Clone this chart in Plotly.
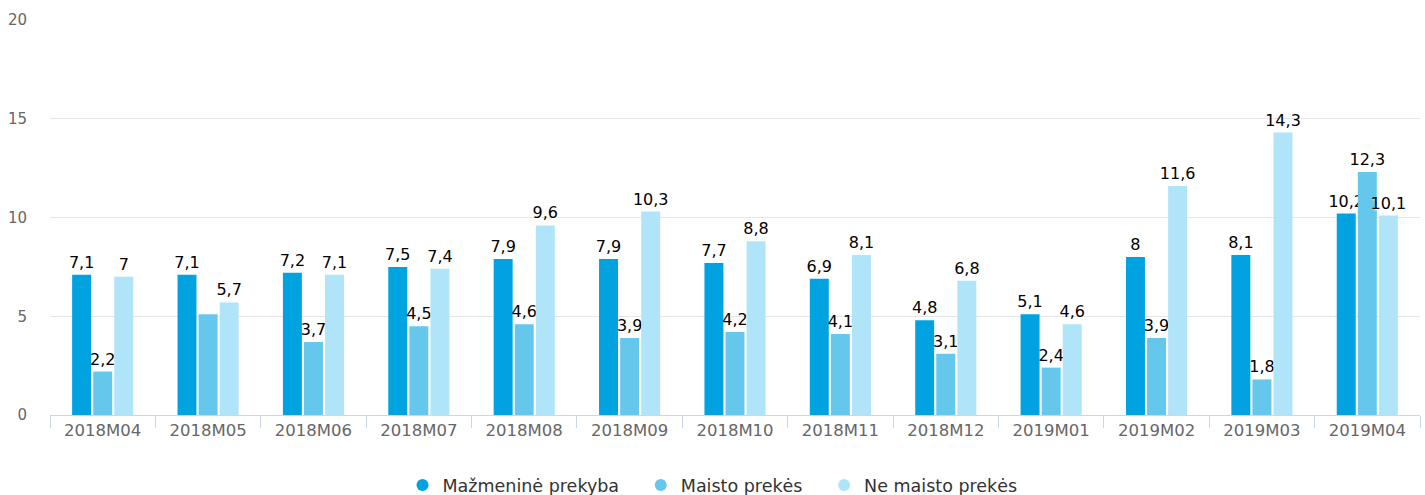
import plotly.graph_objects as go

categories = ["2018M04", "2018M05", "2018M06", "2018M07", "2018M08", "2018M09", "2018M10",
              "2018M11", "2018M12", "2019M01", "2019M02", "2019M03", "2019M04"]
mazmenine = [7.1, 7.1, 7.2, 7.5, 7.9, 7.9, 7.7, 6.9, 4.8, 5.1, 8, 8.1, 10.2]
maisto = [2.2, 5.1, 3.7, 4.5, 4.6, 3.9, 4.2, 4.1, 3.1, 2.4, 3.9, 1.8, 12.3]
ne_maisto = [7, 5.7, 7.1, 7.4, 9.6, 10.3, 8.8, 8.1, 6.8, 4.6, 11.6, 14.3, 10.1]
# labels hidden in the reference (overlap)
hidden_maisto = ["2018M05"]

series = [
    ("Mažmeninė prekyba", mazmenine, "#00a3e0", []),
    ("Maisto prekės", maisto, "#66c7ec", hidden_maisto),
    ("Ne maisto prekės", ne_maisto, "#b0e4f8", []),
]

FONT = "DejaVu Sans, Verdana, sans-serif"
PAD = "\u00a0\u00a0\u00a0"

def fmt(v):
    return ("%g" % v).replace(".", ",")

fig = go.Figure()
for name, vals, color, hidden in series:
    texts = ["" if c in hidden else fmt(v) for c, v in zip(categories, vals)]
    fig.add_trace(go.Bar(
        x=categories, y=vals, name=name, marker=dict(color=color, line=dict(width=0)),
        text=texts, textposition="outside", constraintext="none", cliponaxis=False,
        textfont=dict(family=FONT, size=16, color="#000000", shadow="1px 1px 2px white"),
        showlegend=False, hoverinfo="x+y+name",
    ))
for i, (name, vals, color, hidden) in enumerate(series):
    fig.add_trace(go.Scatter(
        x=[None], y=[None], mode="markers",
        name=name + (PAD if i < len(series) - 1 else ""),
        marker=dict(symbol="circle", size=17, color=color), showlegend=True,
    ))

fig.update_layout(
    width=1425, height=495,
    margin=dict(l=50, r=5, t=20, b=80, autoexpand=False),
    paper_bgcolor="white", plot_bgcolor="white",
    barmode="group", bargap=0.4, bargroupgap=0.1,
    font=dict(family=FONT, size=15, color="#666666"),
    legend=dict(orientation="h", xref="container", x=0.5, xanchor="center",
                yref="container", y=0.02, yanchor="middle",
                font=dict(family=FONT, size=17.5, color="#333333"),
                itemsizing="constant", tracegroupgap=0),
    xaxis=dict(showgrid=False, showline=True, linecolor="#ccd6eb", linewidth=1,
               ticks="outside", tickson="boundaries", ticklen=12, tickcolor="#ccd6eb",
               tickfont=dict(family=FONT, size=16.5, color="#666666")),
    yaxis=dict(range=[0, 20], dtick=5, showgrid=True, gridcolor="#e6e6e6", gridwidth=1,
               zeroline=False, showline=False, ticks="", ticklabelstandoff=22,
               tickfont=dict(family=FONT, size=15, color="#666666")),
)

fig.write_html("out.html", config={"displayModeBar": False},
               post_script="document.body.style.margin='0';document.body.style.overflow='hidden';")
